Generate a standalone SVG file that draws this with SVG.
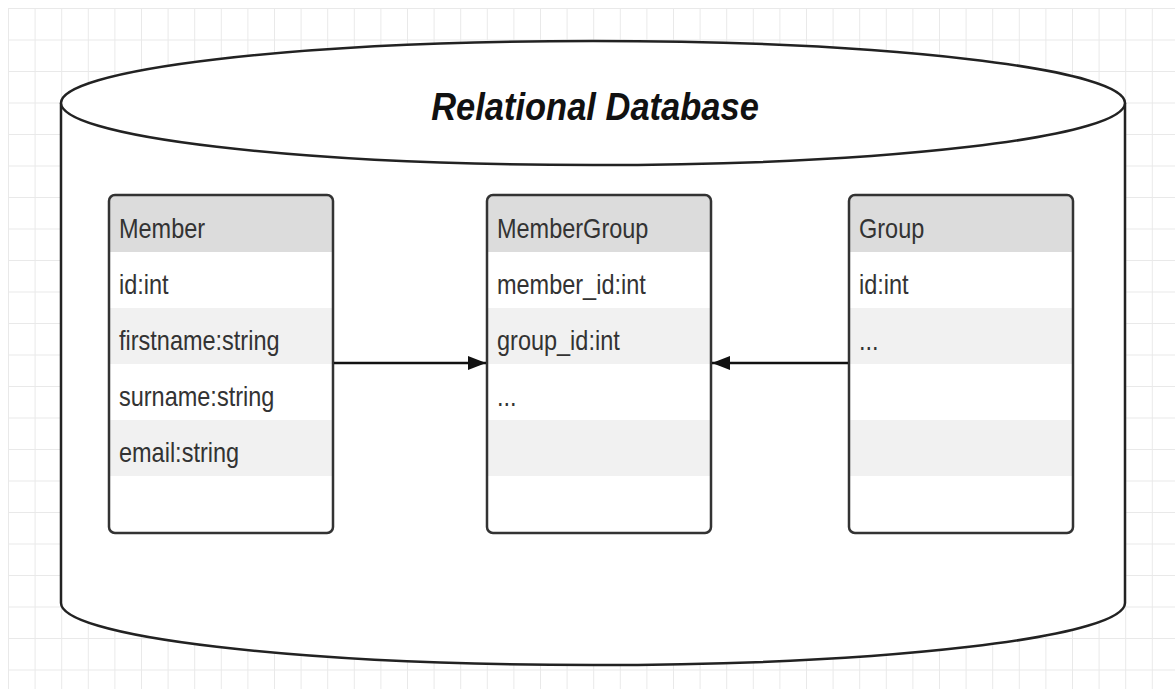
<svg xmlns="http://www.w3.org/2000/svg" width="1175" height="689" viewBox="0 0 1175 689">
  <defs>
    <pattern id="grid" x="8" y="8" width="26.6" height="31.5" patternUnits="userSpaceOnUse">
      <path d="M0.5,0 V31.5 M0,0.5 H26.6" fill="none" stroke="#e9e9e9" stroke-width="1"/>
    </pattern>
    <marker id="arrowBig" viewBox="0 0 18 14" refX="18" refY="7" markerWidth="18" markerHeight="14" markerUnits="userSpaceOnUse" orient="auto">
      <path d="M0,0 L18,7 L0,14 Z" fill="#111"/>
    </marker>
  </defs>
  <style>
    .cyl { fill: #fff; stroke: #222; stroke-width: 2.5; }
    .box { fill: none; stroke: #333; stroke-width: 2.5; }
    .hdr { fill: #dcdcdc; }
    .alt { fill: #f1f1f1; }
    .row { fill: #fff; }
    .txt { font-family: "Liberation Sans", Arial, sans-serif; font-size: 23.5px; fill: #333; }
    .title { font-family: "Liberation Sans", Arial, sans-serif; font-size: 34.5px; font-weight: bold; font-style: italic; fill: #111; }
    .link { fill: none; stroke: #111; stroke-width: 2.5; }
  </style>

  <rect width="1175" height="689" fill="#fff"/>
  <rect x="8" y="8" width="1167" height="681" fill="url(#grid)"/>

  <!-- database cylinder -->
  <g id="database">
    <path class="cyl" d="M61,103 A532,62 0 0 1 1125,103 L1125,603 A532,62 0 0 1 61,603 Z"/>
    <path class="cyl" fill="none" d="M61,103 A532,62 0 0 0 1125,103"/>
    <text class="title" transform="translate(595,120) scale(1,1.12)" text-anchor="middle">Relational Database</text>
  </g>

  <!-- Member table -->
  <g id="member">
    <rect class="row" x="109" y="195" width="224" height="338" rx="6"/>
    <path class="hdr" d="M115,196 H327 Q332,196 332,201 V252 H110 V201 Q110,196 115,196 Z"/>
    <rect class="alt" x="110" y="308" width="222" height="56"/>
    <rect class="alt" x="110" y="420" width="222" height="56"/>
    <rect class="box" x="109" y="195" width="224" height="338" rx="6"/>
    <text class="txt" transform="translate(119,238) scale(1,1.2)">Member</text>
    <text class="txt" transform="translate(119,294) scale(1,1.2)">id:int</text>
    <text class="txt" transform="translate(119,350) scale(1,1.2)">firstname:string</text>
    <text class="txt" transform="translate(119,406) scale(1,1.2)">surname:string</text>
    <text class="txt" transform="translate(119,462) scale(1,1.2)">email:string</text>
  </g>

  <!-- MemberGroup table -->
  <g id="membergroup">
    <rect class="row" x="487" y="195" width="224" height="338" rx="6"/>
    <path class="hdr" d="M493,196 H705 Q710,196 710,201 V252 H488 V201 Q488,196 493,196 Z"/>
    <rect class="alt" x="488" y="308" width="222" height="56"/>
    <rect class="alt" x="488" y="420" width="222" height="56"/>
    <rect class="box" x="487" y="195" width="224" height="338" rx="6"/>
    <text class="txt" transform="translate(497,238) scale(1,1.2)">MemberGroup</text>
    <text class="txt" transform="translate(497,294) scale(1,1.2)">member_id:int</text>
    <text class="txt" transform="translate(497,350) scale(1,1.2)">group_id:int</text>
    <text class="txt" transform="translate(497,406) scale(1,1.2)">...</text>
  </g>

  <!-- Group table -->
  <g id="group">
    <rect class="row" x="849" y="195" width="224" height="338" rx="6"/>
    <path class="hdr" d="M855,196 H1067 Q1072,196 1072,201 V252 H850 V201 Q850,196 855,196 Z"/>
    <rect class="alt" x="850" y="308" width="222" height="56"/>
    <rect class="alt" x="850" y="420" width="222" height="56"/>
    <rect class="box" x="849" y="195" width="224" height="338" rx="6"/>
    <text class="txt" transform="translate(859,238) scale(1,1.2)">Group</text>
    <text class="txt" transform="translate(859,294) scale(1,1.2)">id:int</text>
    <text class="txt" transform="translate(859,350) scale(1,1.2)">...</text>
  </g>

  <!-- relations -->
  <g id="connectors">
    <line class="link" x1="334" y1="363" x2="486" y2="363" marker-end="url(#arrowBig)"/>
    <line class="link" x1="848" y1="363" x2="712" y2="363" marker-end="url(#arrowBig)"/>
  </g>
</svg>
